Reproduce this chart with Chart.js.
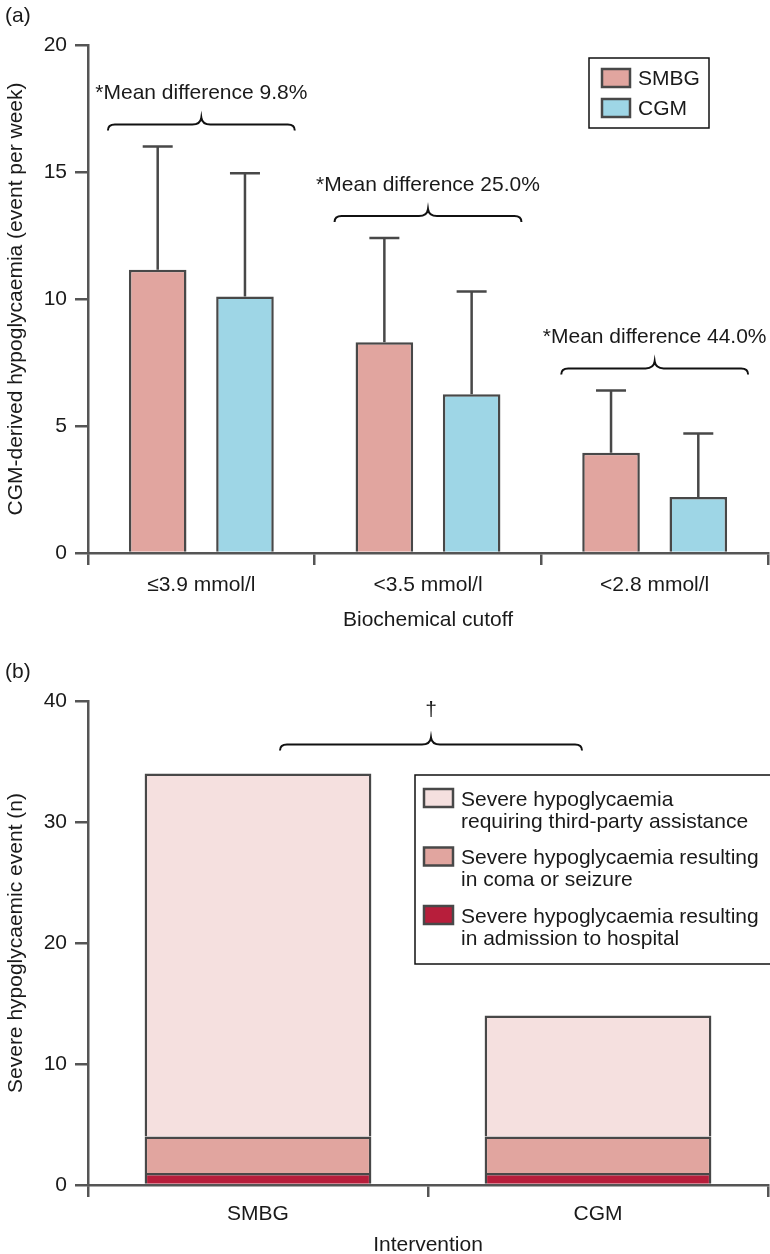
<!DOCTYPE html>
<html>
<head>
<meta charset="utf-8">
<script src="https://cdn.jsdelivr.net/npm/chart.js@4"></script>
<style>
  body { margin: 0; background: #fff; }
  .panel { position: absolute; left: 0; width: 770px; }
  #panelA { top: 0; height: 640px; }
  #panelB { top: 640px; height: 614px; }
</style>
</head>
<body>
<div class="panel" id="panelA"><canvas id="chartA" width="770" height="640"></canvas></div>
<div class="panel" id="panelB"><canvas id="chartB" width="770" height="614"></canvas></div>
<script>
// (a) CGM-derived hypoglycaemia by biochemical cutoff
const cutoffs = ['\u22643.9 mmol/l', '<3.5 mmol/l', '<2.8 mmol/l'];
const smbgMean = [11.15, 8.3, 3.95];
const smbgUpper = [16.0, 12.4, 6.4];
const cgmMean = [10.1, 6.25, 2.2];
const cgmUpper = [14.95, 10.3, 4.7];
const diffLabels = ['*Mean difference 9.8%', '*Mean difference 25.0%', '*Mean difference 44.0%'];
const yMaxA = 20, yStepA = 5;

// (b) severe hypoglycaemic events by intervention
const interventions = ['SMBG', 'CGM'];
const admission = [1, 1];
const comaSeizure = [3, 3];
const thirdParty = [30, 10];
const severityLabels = [
    ['Severe hypoglycaemia', 'requiring third-party assistance'],
    ['Severe hypoglycaemia resulting', 'in coma or seizure'],
    ['Severe hypoglycaemia resulting', 'in admission to hospital']
];
const yMaxB = 40, yStepB = 10;

const FONT = '"Liberation Sans", Arial, Helvetica, sans-serif';
const INK = '#1a1a1a';
const AXIS = '#555555';
const EDGE = '#484848';
const C_SMBG = '#e1a59f', C_CGM = '#9ed6e6';
const C_THIRD = '#f5e0df', C_COMA = '#e1a59f', C_ADM = '#b71e3b';

Chart.defaults.font.family = FONT;
Chart.defaults.font.size = 21;
Chart.defaults.color = INK;

function brace(ctx, x0, x1, y) {
    const xm = (x0 + x1) / 2;
    ctx.beginPath();
    ctx.moveTo(x0, y + 6);
    ctx.quadraticCurveTo(x0, y, x0 + 7, y);
    ctx.lineTo(xm - 9, y);
    ctx.quadraticCurveTo(xm - 1, y, xm, y - 7);
    ctx.quadraticCurveTo(xm + 1, y, xm + 9, y);
    ctx.lineTo(x1 - 7, y);
    ctx.quadraticCurveTo(x1, y, x1, y + 6);
    ctx.strokeStyle = '#111';
    ctx.lineWidth = 2;
    ctx.stroke();
    return xm;
}

function swatch(ctx, x, y, w, h, fill) {
    ctx.fillStyle = fill;
    ctx.fillRect(x, y, w, h);
    ctx.strokeStyle = EDGE;
    ctx.lineWidth = 2.5;
    ctx.strokeRect(x, y, w, h);
}

function axisScales(yMax, yStep, xTitle, yTitle, xHeight, tickPad, titlePad) {
    return {
        x: {
            grid: { drawOnChartArea: false, offset: true, tickLength: 12, color: AXIS, lineWidth: 2.5 },
            border: { color: AXIS, width: 2.5 },
            ticks: { padding: tickPad, color: INK, font: { size: 21 } },
            title: { display: true, text: xTitle, color: INK, font: { size: 21 }, padding: { top: 0, bottom: titlePad } },
            afterFit: s => { s.height = xHeight; }
        },
        y: {
            min: 0, max: yMax,
            grid: { drawOnChartArea: false, tickLength: 13, color: AXIS, lineWidth: 2.5 },
            border: { color: AXIS, width: 2.5 },
            ticks: { stepSize: yStep, padding: 8, color: INK, font: { size: 21 } },
            title: { display: true, text: yTitle, color: INK, font: { size: 21 }, padding: { top: 4, bottom: 0 } },
            afterFit: s => { s.width = 88; }
        }
    };
}

const annotateA = {
    id: 'annotateA',
    afterDatasetsDraw(chart) {
        const ctx = chart.ctx, y = chart.scales.y;
        const m0 = chart.getDatasetMeta(0), m1 = chart.getDatasetMeta(1);
        ctx.save();
        // upward error bars
        [[m0, smbgUpper], [m1, cgmUpper]].forEach(([meta, upper]) => {
            meta.data.forEach((bar, i) => {
                const top = y.getPixelForValue(upper[i]);
                ctx.strokeStyle = EDGE;
                ctx.lineWidth = 2.5;
                ctx.beginPath();
                ctx.moveTo(bar.x, bar.y);
                ctx.lineTo(bar.x, top);
                ctx.moveTo(bar.x - 15, top);
                ctx.lineTo(bar.x + 15, top);
                ctx.stroke();
            });
        });
        // braces + mean difference labels
        ctx.font = '21px ' + FONT;
        ctx.fillStyle = INK;
        ctx.textAlign = 'center';
        ctx.textBaseline = 'middle';
        cutoffs.forEach((c, i) => {
            const b0 = m0.data[i], b1 = m1.data[i];
            const top = Math.min(y.getPixelForValue(smbgUpper[i]), y.getPixelForValue(cgmUpper[i]));
            const by = top - 22;
            const xm = brace(ctx, b0.x - b0.width / 2 - 21, b1.x + b1.width / 2 + 21, by);
            ctx.fillText(diffLabels[i], xm, by - 31);
        });
        // legend
        ctx.strokeStyle = '#111';
        ctx.lineWidth = 1.5;
        ctx.strokeRect(589, 58, 120, 70);
        ctx.textAlign = 'left';
        chart.data.datasets.forEach((ds, i) => {
            const cy = 78 + i * 30;
            swatch(ctx, 602, cy - 9, 28, 18, ds.backgroundColor);
            ctx.fillStyle = INK;
            ctx.fillText(ds.label, 638, cy + 1);
        });
        ctx.fillText('(a)', 5, 16);
        ctx.restore();
    }
};

const annotateB = {
    id: 'annotateB',
    afterDatasetsDraw(chart) {
        const ctx = chart.ctx, x = chart.scales.x, y = chart.scales.y;
        ctx.save();
        const total = admission[0] + comaSeizure[0] + thirdParty[0];
        const by = y.getPixelForValue(total) - 29;
        const xm = brace(ctx, x.getPixelForValue(0) + 22, x.getPixelForValue(1) - 16, by);
        ctx.font = '21px ' + FONT;
        ctx.fillStyle = INK;
        ctx.textAlign = 'center';
        ctx.textBaseline = 'middle';
        ctx.fillText('\u2020', xm, by - 34);
        // legend, top entry first
        ctx.fillStyle = '#fff';
        ctx.fillRect(415, 135, 360, 189);
        ctx.strokeStyle = '#111';
        ctx.lineWidth = 1.5;
        ctx.strokeRect(415, 135, 360, 189);
        ctx.textAlign = 'left';
        const order = [2, 1, 0];
        order.forEach((dsIndex, k) => {
            const ds = chart.data.datasets[dsIndex];
            const cy = 159 + k * 58.5;
            swatch(ctx, 424, cy - 10, 29, 18, ds.backgroundColor);
            ctx.fillStyle = INK;
            severityLabels[k].forEach((line, j) => ctx.fillText(line, 461, cy + 1 + j * 22));
        });
        ctx.fillText('(b)', 5, 32);
        ctx.restore();
    }
};

new Chart(document.getElementById('chartA'), {
    type: 'bar',
    data: {
        labels: cutoffs,
        datasets: [
            { label: 'SMBG', data: smbgMean, backgroundColor: C_SMBG, borderColor: EDGE, borderWidth: 2.5, borderSkipped: 'start' },
            { label: 'CGM', data: cgmMean, backgroundColor: C_CGM, borderColor: EDGE, borderWidth: 2.5, borderSkipped: 'start' }
        ]
    },
    options: {
        responsive: false,
        animation: false,
        categoryPercentage: 0.77,
        barPercentage: 0.66,
        layout: { padding: { top: 45, right: 2, left: 0, bottom: 0 } },
        plugins: { legend: { display: false }, tooltip: { enabled: false } },
        scales: axisScales(yMaxA, yStepA, 'Biochemical cutoff', 'CGM-derived hypoglycaemia (event per week)', 87, 8, 7)
    },
    plugins: [annotateA]
});

const scalesB = axisScales(yMaxB, yStepB, 'Intervention', 'Severe hypoglycaemic event (n)', 69, 5, -4);
scalesB.x.stacked = true;
scalesB.y.stacked = true;

new Chart(document.getElementById('chartB'), {
    type: 'bar',
    data: {
        labels: interventions,
        datasets: [
            { label: severityLabels[2].join(' '), data: admission, backgroundColor: C_ADM, borderColor: EDGE, borderWidth: 2.5, borderSkipped: 'start' },
            { label: severityLabels[1].join(' '), data: comaSeizure, backgroundColor: C_COMA, borderColor: EDGE, borderWidth: 2.5, borderSkipped: 'start' },
            { label: severityLabels[0].join(' '), data: thirdParty, backgroundColor: C_THIRD, borderColor: EDGE, borderWidth: 2.5, borderSkipped: 'start' }
        ]
    },
    options: {
        responsive: false,
        animation: false,
        categoryPercentage: 1,
        barPercentage: 0.667,
        layout: { padding: { top: 61, right: 2, left: 0, bottom: 0 } },
        plugins: { legend: { display: false }, tooltip: { enabled: false } },
        scales: scalesB
    },
    plugins: [annotateB]
});
</script>
</body>
</html>
